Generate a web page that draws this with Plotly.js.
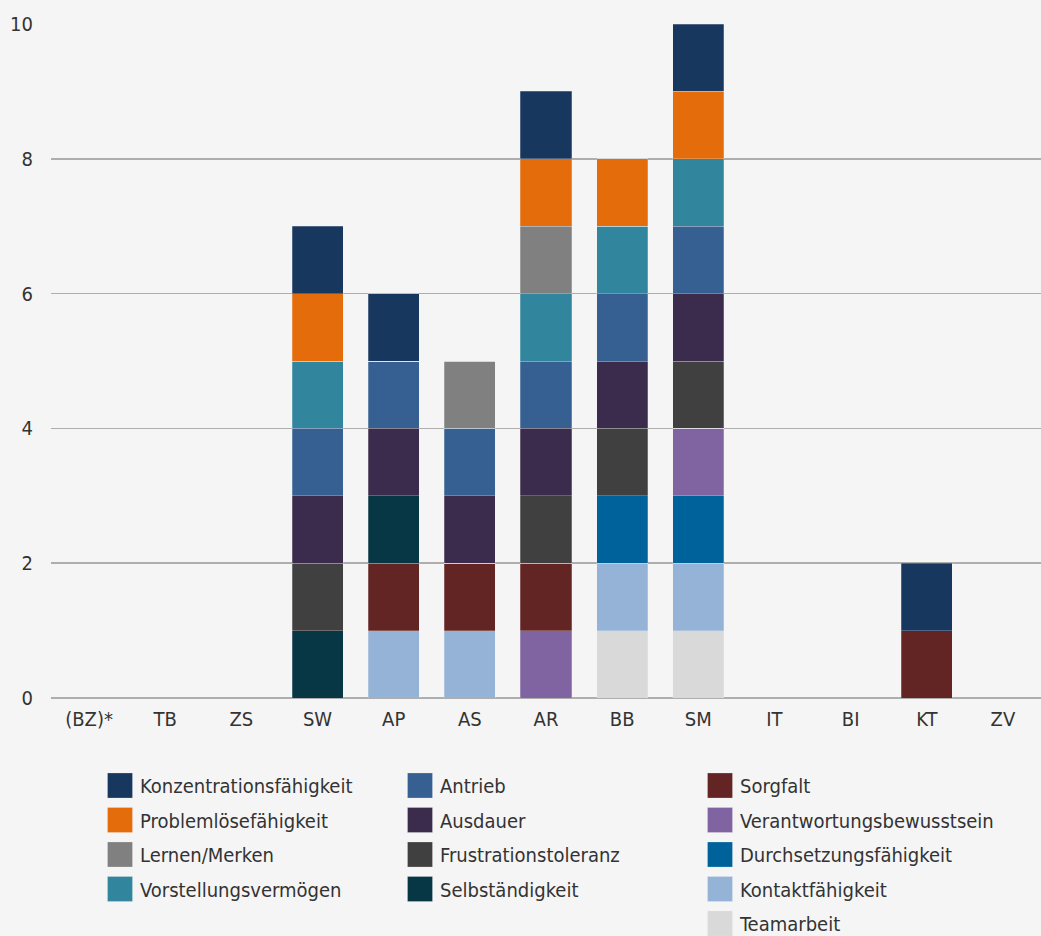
<!DOCTYPE html>
<html>
<head>
<meta charset="utf-8">
<script src="https://cdn.plot.ly/plotly-3.0.1.min.js"></script>
<style>html,body{margin:0;padding:0;background:#f5f5f5;}#chart{width:1041px;height:936px;}</style>
</head>
<body>
<div id="chart"></div>
<script>
const categories = ["(BZ)*","TB","ZS","SW","AP","AS","AR","BB","SM","IT","BI","KT","ZV"];

// series, stacking order bottom -> top
const teamarbeit      = [0,0,0,0,0,0,0,1,1,0,0,0,0];
const kontakt         = [0,0,0,0,1,1,0,1,1,0,0,0,0];
const durchsetzung    = [0,0,0,0,0,0,0,1,1,0,0,0,0];
const verantwortung   = [0,0,0,0,0,0,1,0,1,0,0,0,0];
const sorgfalt        = [0,0,0,0,1,1,1,0,0,0,0,1,0];
const selbstaendig    = [0,0,0,1,1,0,0,0,0,0,0,0,0];
const frustration     = [0,0,0,1,0,0,1,1,1,0,0,0,0];
const ausdauer        = [0,0,0,1,1,1,1,1,1,0,0,0,0];
const antrieb         = [0,0,0,1,1,1,1,1,1,0,0,0,0];
const vorstellung     = [0,0,0,1,0,0,1,1,1,0,0,0,0];
const lernen          = [0,0,0,0,0,1,1,0,0,0,0,0,0];
const problem         = [0,0,0,1,0,0,1,1,1,0,0,0,0];
const konzentration   = [0,0,0,1,1,0,1,0,1,0,0,1,0];

const seriesNames = ["Teamarbeit","Kontaktfähigkeit","Durchsetzungsfähigkeit","Verantwortungsbewusstsein","Sorgfalt","Selbständigkeit","Frustrationstoleranz","Ausdauer","Antrieb","Vorstellungsvermögen","Lernen/Merken","Problemlösefähigkeit","Konzentrationsfähigkeit"];
const seriesValues = [teamarbeit,kontakt,durchsetzung,verantwortung,sorgfalt,selbstaendig,frustration,ausdauer,antrieb,vorstellung,lernen,problem,konzentration];
const seriesColors = ["#d9d9d9","#95b3d7","#00629b","#8064a2","#632523","#073645","#404040","#3b2c4d","#376092","#31859c","#808080","#e46c0a","#17375e"];
const seriesLegend = ["legend3","legend3","legend3","legend3","legend3","legend2","legend2","legend2","legend2","legend","legend","legend","legend"];
const tickVals = [0,2,4,6,8,10];

const FONT = "'Liberation Sans Narrow', 'DejaVu Sans Condensed', 'Arial Narrow', sans-serif";

const traces = seriesNames.map((n,i)=>({
  type:'bar', name:n, x:categories, y:seriesValues[i],
  marker:{color:seriesColors[i], line:{color:'rgba(245,245,245,0.5)', width:0.5}},
  legend:seriesLegend[i], legendgroup:n, legendrank:100-i, hoverinfo:'x+y+name'
}));

const legendBase = {
  xref:'container', yref:'container', xanchor:'left', yanchor:'top',
  orientation:'v', traceorder:'grouped', tracegroupgap:5.5,
  bgcolor:'rgba(0,0,0,0)', font:{family:FONT, size:20, color:'#333333'}
};
const legendTop = 1 - 766/936;

const layout = {
  width:1041, height:936,
  paper_bgcolor:'#f5f5f5', plot_bgcolor:'#f5f5f5',
  margin:{l:51, r:0, t:24, b:238, autoexpand:false},
  barmode:'stack', bargap:0.33,
  font:{family:FONT, size:20, color:'#333333'},
  xaxis:{type:'category', showgrid:false, zeroline:false, showline:false, ticks:'', tickfont:{size:20},
         tickangle:0, automargin:false, ticklabelstandoff:7},
  yaxis:{range:[0,10], tickvals:tickVals, showgrid:true, gridcolor:'#aeaeae', gridwidth:1.6,
         zeroline:true, zerolinecolor:'#aeaeae', zerolinewidth:1.6, ticks:'', ticklen:0, tickfont:{size:20},
         automargin:false, ticklabelstandoff:17},
  legend: Object.assign({}, legendBase, {x:100/1041, y:legendTop}),
  legend2: Object.assign({}, legendBase, {x:400/1041, y:legendTop}),
  legend3: Object.assign({}, legendBase, {x:700/1041, y:legendTop}),
  showlegend:true
};

Plotly.newPlot('chart', traces, layout, {displayModeBar:false, staticPlot:true}).then(gd=>{
  // enlarge legend swatches to match the reference's square keys
  gd.querySelectorAll('.legendpoints path').forEach(p=>{
    if (p.getAttribute('d')) p.setAttribute('d','M12.5,12.5H-12.5V-12.5H12.5Z');
  });
});
</script>
</body>
</html>
